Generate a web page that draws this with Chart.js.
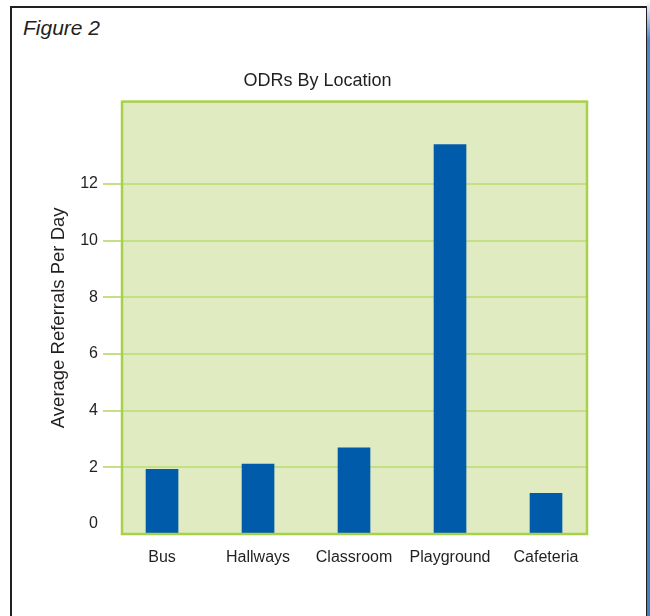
<!DOCTYPE html>
<html>
<head>
<meta charset="utf-8">
<script src="https://cdn.jsdelivr.net/npm/chart.js@4/dist/chart.umd.min.js"></script>
<style>
  body { margin: 0; background: #fff; }
  #wrap { position: relative; width: 650px; height: 616px; overflow: hidden; }
  #frame { position: absolute; left: 10px; top: 6px; width: 634px; height: 640px;
           border: 2px solid #231f20; border-bottom: none; }
  #strip { position: absolute; left: 647px; top: 0; width: 3px; height: 616px;
           background: linear-gradient(#ffffff 0px, #4a88c8 40px, #3f7fc2 616px); }
  #fig { position: absolute; left: 23px; top: 16px; font: italic 21px 'Liberation Sans', Arial, sans-serif; color: #231f20; }
  canvas { position: absolute; left: 0; top: 0; }
</style>
</head>
<body>
<div id="wrap">
  <div id="frame"></div>
  <div id="strip"></div>
  <div id="fig">Figure 2</div>
  <canvas id="chart" width="650" height="616"></canvas>
</div>
<script>
const categories = ['Bus', 'Hallways', 'Classroom', 'Playground', 'Cafeteria'];
const referrals = [1.93, 2.12, 2.69, 13.38, 1.08];
const yTicks = [0, 2, 4, 6, 8, 10, 12];

const Y_MIN = -0.35;
const textColor = '#231f20';
const font = "'Liberation Sans', Arial, sans-serif";

// plot background and green frame
const plotBox = {
    id: 'plotBox',
    beforeDraw(chart) {
        const a = chart.chartArea, ctx = chart.ctx;
        ctx.save();
        ctx.fillStyle = '#e1ebc2';
        ctx.fillRect(a.left, a.top, a.right - a.left, a.bottom - a.top);
        ctx.restore();
    },
    afterDraw(chart) {
        const a = chart.chartArea, ctx = chart.ctx;
        ctx.save();
        ctx.strokeStyle = '#a9d04a';
        ctx.lineWidth = 2.5;
        ctx.strokeRect(a.left, a.top, a.right - a.left, a.bottom - a.top);
        ctx.restore();
    }
};

new Chart(document.getElementById('chart').getContext('2d'), {
    type: 'bar',
    data: {
        datasets: [{
            data: categories.map((c, i) => ({ x: i, y: referrals[i] })),
            backgroundColor: '#005baa',
            barThickness: 32,
            base: Y_MIN
        }]
    },
    options: {
        responsive: false,
        animation: false,
        layout: { padding: { left: 48, right: 63, top: 0, bottom: 0 } },
        plugins: {
            legend: { display: false },
            tooltip: { enabled: false },
            title: {
                display: true,
                text: 'ODRs By Location',
                color: textColor,
                font: { family: font, size: 18, weight: 'normal' },
                padding: { top: 70, bottom: 10 }
            }
        },
        scales: {
            x: {
                type: 'linear',
                offset: false,
                min: -0.417,
                max: 4.427,
                afterBuildTicks: s => { s.ticks = categories.map((c, i) => ({ value: i })); },
                afterFit: s => { s.height = 82; },
                grid: { display: false },
                border: { display: false },
                ticks: {
                    callback: v => categories[v],
                    color: textColor,
                    padding: 6,
                    autoSkip: false,
                    maxRotation: 0,
                    font: { family: font, size: 16 }
                }
            },
            y: {
                min: Y_MIN,
                max: 14.9,
                afterBuildTicks: s => { s.ticks = yTicks.map(v => ({ value: v })); },
                afterFit: s => { s.width = 122 - 48; },
                border: { display: false },
                grid: {
                    color: c => c.tick && c.tick.value === 0 ? 'rgba(0,0,0,0)' : '#c4df86',
                    lineWidth: 2,
                    tickLength: 19
                },
                ticks: {
                    color: textColor,
                    padding: 5,
                    font: { family: font, size: 16 }
                },
                title: {
                    display: true,
                    text: 'Average Referrals Per Day',
                    color: textColor,
                    padding: 0,
                    font: { family: font, size: 18.5 }
                }
            }
        }
    },
    plugins: [plotBox]
});
</script>
</body>
</html>
